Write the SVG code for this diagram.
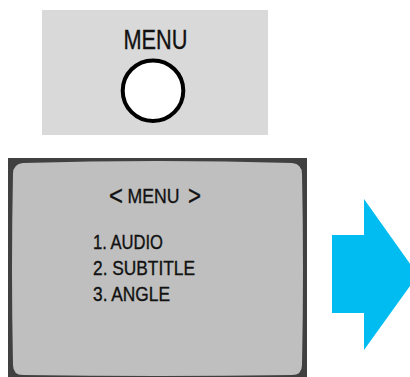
<svg xmlns="http://www.w3.org/2000/svg" width="410" height="377" viewBox="0 0 410 377">
<style>
.t{font-family:"Liberation Sans",Arial,sans-serif;fill:#111;stroke:#111;stroke-width:0.35;}
</style>
<rect width="410" height="377" fill="#ffffff"/>
<g id="menu-button">
<rect x="42" y="10" width="226" height="125" fill="#d9d9d9"/>
<text class="t" x="123.5" y="49" font-size="27.5" textLength="64" lengthAdjust="spacingAndGlyphs">MENU</text>
<circle cx="153" cy="90.7" r="30.3" fill="#ffffff" stroke="#000000" stroke-width="4"/>
</g>
<g id="tv-screen">
<rect x="8" y="158" width="299" height="219" fill="#404040"/>
<path d="M23,163 Q158,159 292,163 Q302,164 302,174 Q304,268 302,365 Q302,375 292,375 Q158,377 23,375 Q13,375 13,365 Q11,268 13,174 Q13,164 23,163 Z" fill="#bfbfbf"/>
<text class="t" x="109" y="205" font-size="27" textLength="14" lengthAdjust="spacingAndGlyphs">&lt;</text>
<text class="t" x="127.5" y="203" font-size="21" textLength="52" lengthAdjust="spacingAndGlyphs">MENU</text>
<text class="t" x="188" y="205" font-size="27" textLength="13" lengthAdjust="spacingAndGlyphs">&gt;</text>
<text class="t" x="93" y="249" font-size="19.5" textLength="70" lengthAdjust="spacingAndGlyphs">1. AUDIO</text>
<text class="t" x="93" y="275" font-size="19.5" textLength="102" lengthAdjust="spacingAndGlyphs">2. SUBTITLE</text>
<text class="t" x="93" y="301" font-size="19.5" textLength="77" lengthAdjust="spacingAndGlyphs">3. ANGLE</text>
</g>
<g id="connectors">
<polygon points="332,235 364,235 364,199 418,275 364,350 364,313 332,313" fill="#00bcf0"/>
</g>
</svg>
